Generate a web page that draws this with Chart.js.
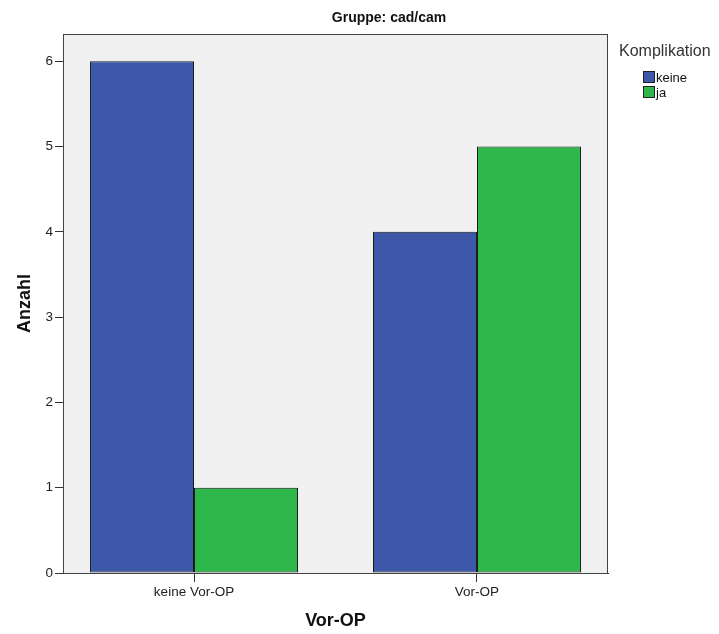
<!DOCTYPE html>
<html>
<head>
<meta charset="utf-8">
<script src="https://cdn.jsdelivr.net/npm/chart.js@4/dist/chart.umd.min.js"></script>
<style>
  html, body { margin:0; padding:0; background:#fff; }
  #wrap { width:719px; height:634px; position:relative; }
</style>
</head>
<body>
<div id="wrap"><canvas id="grafico"></canvas></div>
<script>
// Daten
const kategorien = ['keine Vor-OP', 'Vor-OP'];
const keine = [6, 4];
const ja = [1, 5];
const yTicks = [0, 1, 2, 3, 4, 5, 6];
const legendeTitel = 'Komplikation';
const titel = 'Gruppe: cad/cam';

const FONT = '"Liberation Sans", Arial, sans-serif';
const BLAU = '#3d58a9';
const GRUEN = '#2eb84b';

// grauer Hintergrund + Rahmen des Plotbereichs, Titel und Legende
const plotBox = {
  id: 'plotBox',
  beforeDraw (chart) {
    const { ctx, chartArea: a } = chart;
    ctx.save();
    ctx.fillStyle = '#f0f0f0';
    ctx.fillRect(a.left, a.top, a.right - a.left, a.bottom - a.top);
    ctx.restore();
  },
  afterDraw (chart) {
    const { ctx, chartArea: a } = chart;
    ctx.save();
    ctx.strokeStyle = '#444';
    ctx.lineWidth = 1;
    ctx.strokeRect(a.left + 0.5, a.top + 0.5, a.right - a.left - 1, a.bottom - a.top);
    // Titel
    ctx.fillStyle = '#111';
    ctx.font = 'bold 14px ' + FONT;
    ctx.textAlign = 'center';
    ctx.textBaseline = 'alphabetic';
    ctx.fillText(titel, 389, 22);
    // Legende
    ctx.textAlign = 'left';
    ctx.fillStyle = '#333';
    ctx.font = '16px ' + FONT;
    ctx.fillText(legendeTitel, 619, 56);
    chart.data.datasets.forEach((ds, i) => {
      const y = 71 + i * 15;
      ctx.fillStyle = ds.backgroundColor;
      ctx.fillRect(643, y, 12, 12);
      ctx.strokeStyle = '#222';
      ctx.strokeRect(643.5, y + 0.5, 11, 11);
      ctx.fillStyle = '#111';
      ctx.font = '13px ' + FONT;
      ctx.fillText(ds.label, 656, y + 11);
    });
    ctx.restore();
  }
};

new Chart(document.getElementById('grafico'), {
  type: 'bar',
  data: {
    datasets: [
      { label: 'keine', data: kategorien.map((k, i) => ({ x: i, y: keine[i] })),
        backgroundColor: BLAU, borderColor: '#1a1a1a', borderWidth: 1, borderSkipped: false },
      { label: 'ja', data: kategorien.map((k, i) => ({ x: i, y: ja[i] })),
        backgroundColor: GRUEN, borderColor: '#1a1a1a', borderWidth: 1, borderSkipped: false }
    ]
  },
  options: {
    responsive: true,
    maintainAspectRatio: false,
    animation: false,
    layout: { padding: { left: 0, top: 34, right: 111, bottom: 0 } },
    categoryPercentage: 0.735,
    barPercentage: 1,
    plugins: { legend: { display: false }, title: { display: false }, tooltip: { enabled: false } },
    scales: {
      x: {
        type: 'linear',
        offset: false,
        min: -0.463, max: 1.463,
        afterBuildTicks: s => { s.ticks = kategorien.map((k, i) => ({ value: i })); },
        afterFit: s => { s.height = 61; },
        grid: { offset: false, drawOnChartArea: false, drawTicks: true, tickLength: 9, color: '#333' },
        border: { display: true, color: '#333' },
        ticks: {
          callback: v => kategorien[v] ?? '',
          color: '#222', padding: 2, maxRotation: 0,
          font: { family: FONT, size: 13.5 }
        },
        title: { display: true, text: 'Vor-OP', color: '#111',
          font: { family: FONT, size: 18, weight: 'bold' }, padding: { top: 0, bottom: 2 } }
      },
      y: {
        min: 0, max: 6.32,
        afterBuildTicks: s => { s.ticks = yTicks.map(v => ({ value: v })); },
        afterFit: s => { s.width = 63; },
        grid: { drawOnChartArea: false, drawTicks: true, tickLength: 8, color: '#333' },
        border: { display: true, color: '#333' },
        ticks: { color: '#222', padding: 2, font: { family: FONT, size: 13.5 } },
        title: { display: true, text: 'Anzahl', color: '#111',
          font: { family: FONT, size: 18, weight: 'bold' }, padding: { top: 14, bottom: 0 } }
      }
    }
  },
  plugins: [plotBox]
});
</script>
</body>
</html>
